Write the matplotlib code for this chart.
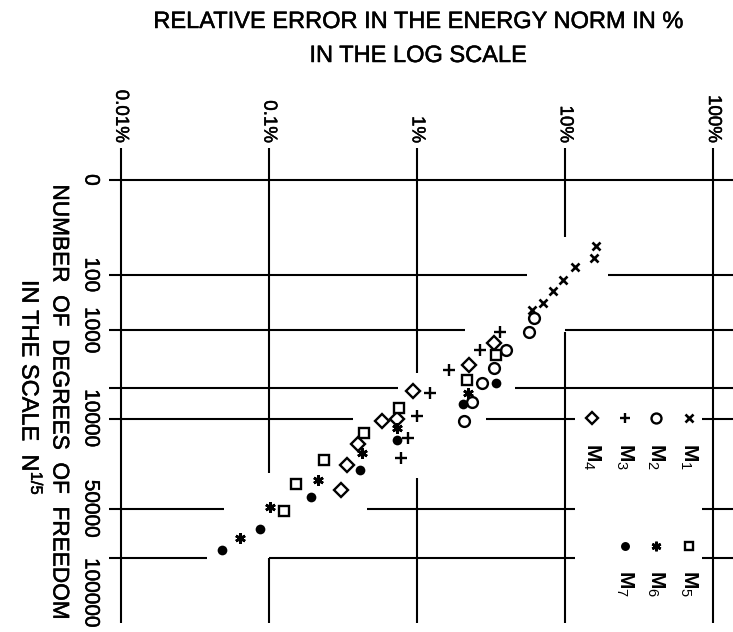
import numpy as np
import matplotlib
matplotlib.use("Agg")
import matplotlib.pyplot as plt
import matplotlib.patheffects as pe
from matplotlib.transforms import blended_transform_factory

plt.rcParams['font.family'] = ['Liberation Sans', 'DejaVu Sans']
plt.rcParams['mathtext.fontset'] = 'custom'
plt.rcParams['mathtext.rm'] = 'Liberation Sans'
plt.rcParams['mathtext.it'] = 'Liberation Sans'
plt.rcParams['mathtext.bf'] = 'Liberation Sans:bold'

# relative error (%) and number of degrees of freedom for each method
m1_err = [16.1, 15.5, 11.6, 9.65, 8.2, 7.1, 5.95]
m1_dof = [16, 38, 66, 131, 220, 370, 490]

m2_err = [6.15, 5.7, 4.0, 3.3, 2.75, 2.33, 2.08]
m2_dof = [656, 1040, 1840, 3020, 4470, 6910, 10490]

m3_err = [3.65, 2.66, 1.64, 1.23, 1.0, 0.87, 0.78]
m3_dof = [1040, 1840, 3210, 5640, 9490, 14900, 21400]

m4_err = [3.32, 2.25, 0.94, 0.73, 0.58, 0.40, 0.335, 0.307]
m4_dof = [1505, 2810, 5420, 10100, 10580, 16770, 24500, 36800]

m5_err = [3.41, 2.16, 0.75, 0.44, 0.235, 0.152, 0.1255]
m5_dof = [2100, 4150, 7980, 13510, 22300, 33800, 51260]

m6_err = [2.22, 0.737, 0.425, 0.2145, 0.101, 0.0638]
m6_dof = [5615, 12040, 19540, 31490, 48450, 75680]

m7_err = [3.42, 2.04, 0.728, 0.412, 0.193, 0.0875, 0.048]
m7_dof = [4430, 7310, 15490, 26440, 41480, 67280, 89860]

x_ticks = [0.01, 0.1, 1, 10, 100]
x_labels = ["0.01%", "0.1%", "1%", "10%", "100%"]
y_ticks = [0, 100, 1000, 10000, 50000, 100000]
y_labels = ["0", "100", "1000", "10000", "50000", "100000"]

# grid pieces (the drawing leaves gaps around the data band)
U_TOP, U_BOT = -0.85, 11.72
v_segs = {
    0.01: [(U_TOP, U_BOT)],
    0.1: [(U_TOP, 7.75), (10.0, U_BOT)],
    1: [(U_TOP, 5.1), (7.88, U_BOT)],
    10: [(U_TOP, 1.5), (4.01, U_BOT)],
    100: [(U_TOP, U_BOT)],
}
XMIN, XMAX = 10 ** -2.079, 10 ** 2.1316
h_segs = {
    0: [(XMIN, XMAX)],
    100: [(XMIN, 5.5), (19.4, XMAX)],
    1000: [(XMIN, 2.1), (10, XMAX)],
    5000: [(XMIN, 0.74), (4.6, XMAX)],
    10000: [(XMIN, 0.37), (2.9, 11.6), (83, XMAX)],
    50000: [(XMIN, 0.05), (0.46, 11.6), (83, XMAX)],
    100000: [(XMIN, 0.038), (0.1, 11.6), (83, XMAX)],
}


def sc(n):
    return np.asarray(n, dtype=float) ** 0.2


series = [
    ("M$_1$", m1_err, m1_dof, dict(marker='x', ms=6, mew=1.9, color='k')),
    ("M$_2$", m2_err, m2_dof, dict(marker='o', ms=7.8, mew=1.7, mfc='white', mec='k')),
    ("M$_3$", m3_err, m3_dof, dict(marker='+', ms=8, mew=1.7, color='k')),
    ("M$_4$", m4_err, m4_dof, dict(marker='D', ms=7, mew=1.7, mfc='white', mec='k')),
    ("M$_5$", m5_err, m5_dof, dict(marker='s', ms=7, mew=1.7, mfc='white', mec='k')),
    ("M$_6$", m6_err, m6_dof, dict(marker=(6, 2, 0), ms=7.5, mew=1.9, color='k')),
    ("M$_7$", m7_err, m7_dof, dict(marker='o', ms=7, mew=0, mfc='k')),
]

# legend slots (error %, dof-scale)
leg_x = [68, 41, 25.3, 15.1, 68, 41, 25.3]
leg_u = [6.30, 6.30, 6.30, 6.30, 9.68, 9.68, 9.68]

bold = [pe.withStroke(linewidth=0.35, foreground='k')]

fig = plt.figure(figsize=(7.33, 6.32), dpi=100)
ax = fig.add_axes([109 / 733, 1 - 623 / 632, 624 / 733, 483 / 632])
ax.set_xscale('log')
ax.set_xlim(XMIN, XMAX)
ax.set_ylim((623 - 180) / 37.8, (140 - 180) / 37.8)
ax.axis('off')

for xv, spans in v_segs.items():
    for a, b in spans:
        ax.plot([xv, xv], [a, b], color='k', lw=1.5, solid_capstyle='butt', clip_on=False)
for yv, spans in h_segs.items():
    for a, b in spans:
        ax.plot([a, b], [sc(yv), sc(yv)], color='k', lw=1.5, solid_capstyle='butt', clip_on=False)

for (name, err, dof, st), lx, lu in zip(series, leg_x, leg_u):
    ax.plot(err, sc(dof), ls='none', clip_on=False, **st)
    st2 = dict(st)
    st2['ms'] = st['ms'] * 0.92
    ax.plot([lx], [lu], ls='none', **st2)
    ax.text(lx, lu + 0.65, name, rotation=-90, ha='center', va='top', fontsize=15,
            fontweight='bold')

# tick labels
tx = blended_transform_factory(ax.transData, fig.transFigure)
for xv, lab in zip(x_ticks, x_labels):
    ax.text(xv, 1 - 143 / 632, lab, transform=tx, rotation=-90, ha='center', va='bottom',
            fontsize=13.5, path_effects=bold)
ty = blended_transform_factory(fig.transFigure, ax.transData)
for yv, lab in zip(y_ticks, y_labels):
    va = 'top' if yv == 100000 else 'center'
    ax.text(91 / 733, sc(yv), lab, transform=ty, rotation=-90, ha='center', va=va,
            fontsize=15, path_effects=bold)

fig.text(418 / 733, 1 - 22 / 632, "RELATIVE ERROR IN THE ENERGY NORM IN %",
         ha='center', va='center', fontsize=17, path_effects=bold)
fig.text(418 / 733, 1 - 56 / 632, "IN THE LOG SCALE", ha='center', va='center',
         fontsize=17, path_effects=bold)
fig.text(60 / 733, 1 - 402 / 632, "NUMBER  OF  DEGREES  OF  FREEDOM", rotation=-90,
         ha='center', va='center', fontsize=16.3, path_effects=bold)
fig.text(30 / 733, 1 - 388 / 632, "IN THE SCALE  N$^{1/5}$", rotation=-90,
         ha='center', va='center', fontsize=17, path_effects=bold)

fig.savefig("out.png", dpi=100)
